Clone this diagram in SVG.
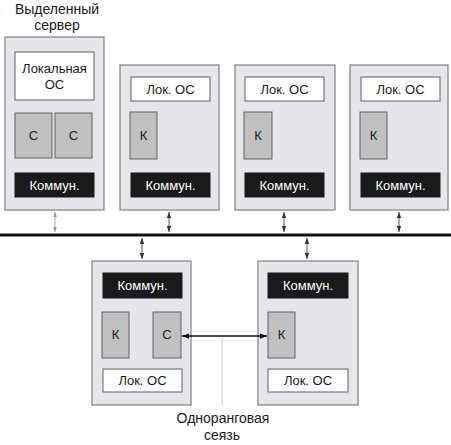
<svg xmlns="http://www.w3.org/2000/svg" width="451" height="445" viewBox="0 0 451 445">
<defs>
<style>
.box{fill:#e6e6ea;stroke:#808080;stroke-width:1.2}
.os{fill:#ffffff;stroke:#606060;stroke-width:1}
.kc{fill:#c0c0c0;stroke:#606060;stroke-width:1}
.com{fill:#1a1a1a;stroke:#1a1a1a}
text{font-family:"Liberation Sans",Arial,sans-serif;font-size:13px;text-anchor:middle}
.w{fill:#ffffff}
.b{fill:#1a1a1a}
.lbl{font-size:14px;fill:#1a1a1a}
.ar{stroke:#555;stroke-width:1;fill:none;marker-start:url(#ah);marker-end:url(#ah)}
.arl{stroke:#aaa;stroke-width:1;fill:none;marker-start:url(#ahl);marker-end:url(#ahl)}
</style>
<marker id="ah" viewBox="0 0 6 6" refX="6" refY="3" markerWidth="6" markerHeight="6" orient="auto-start-reverse" markerUnits="userSpaceOnUse"><path d="M0,0.8 L6,3 L0,5.2 z" fill="#333"/></marker>
<marker id="ahl" viewBox="0 0 6 6" refX="6" refY="3" markerWidth="5" markerHeight="5" orient="auto-start-reverse" markerUnits="userSpaceOnUse"><path d="M0,0.8 L6,3 L0,5.2 z" fill="#999"/></marker>
<marker id="ahb" viewBox="0 0 8 8" refX="8" refY="4" markerWidth="7" markerHeight="7" orient="auto-start-reverse" markerUnits="userSpaceOnUse"><path d="M0,1 L8,4 L0,7 z" fill="#111"/></marker>
</defs>
<rect width="451" height="445" fill="#ffffff"/>
<text class="lbl" x="57" y="14">Выделенный</text>
<text class="lbl" x="57" y="30">сервер</text>
<g id="server">
<rect class="box" x="5" y="37" width="99" height="173"/>
<rect class="os" x="15" y="52" width="79" height="48"/>
<text class="b" x="54.5" y="73">Локальная</text>
<text class="b" x="54.5" y="89">ОС</text>
<rect class="kc" x="15" y="113" width="37" height="45"/>
<text class="b" x="33.5" y="140">С</text>
<rect class="kc" x="55" y="113" width="37" height="45"/>
<text class="b" x="73.5" y="140">С</text>
<rect class="com" x="15" y="173" width="79" height="24"/>
<text class="w" x="54.5" y="190">Коммун.</text>
</g>
<g id="client1">
<rect class="box" x="120" y="65" width="99" height="145"/>
<rect class="os" x="131" y="77" width="79" height="24"/>
<text class="b" x="170.5" y="94">Лок. ОС</text>
<rect class="kc" x="130" y="112" width="27" height="47"/>
<text class="b" x="143.5" y="140">К</text>
<rect class="com" x="131" y="173" width="79" height="24"/>
<text class="w" x="170.5" y="190">Коммун.</text>
</g>
<g id="client2">
<rect class="box" x="235" y="65" width="100" height="145"/>
<rect class="os" x="245" y="77" width="79" height="24"/>
<text class="b" x="284.5" y="94">Лок. ОС</text>
<rect class="kc" x="244" y="112" width="28" height="47"/>
<text class="b" x="258" y="140">К</text>
<rect class="com" x="245" y="173" width="79" height="24"/>
<text class="w" x="284.5" y="190">Коммун.</text>
</g>
<g id="client3">
<rect class="box" x="350" y="65" width="98" height="145"/>
<rect class="os" x="361" y="77" width="79" height="24"/>
<text class="b" x="400.5" y="94">Лок. ОС</text>
<rect class="kc" x="360" y="112" width="27" height="47"/>
<text class="b" x="373.5" y="140">К</text>
<rect class="com" x="361" y="173" width="79" height="24"/>
<text class="w" x="400.5" y="190">Коммун.</text>
</g>
<g id="peer1">
<rect class="box" x="92" y="261" width="99" height="144"/>
<rect class="com" x="103" y="273" width="79" height="25"/>
<text class="w" x="142.5" y="290">Коммун.</text>
<rect class="kc" x="102" y="312" width="27" height="46"/>
<text class="b" x="115.5" y="339">К</text>
<rect class="kc" x="153" y="312" width="28" height="46"/>
<text class="b" x="167" y="339">С</text>
<rect class="os" x="103" y="369" width="79" height="23"/>
<text class="b" x="142.5" y="385">Лок. ОС</text>
</g>
<g id="peer2">
<rect class="box" x="258" y="261" width="100" height="144"/>
<rect class="com" x="268" y="273" width="80" height="25"/>
<text class="w" x="308" y="290">Коммун.</text>
<rect class="kc" x="268" y="312" width="27" height="46"/>
<text class="b" x="281.5" y="339">К</text>
<rect class="os" x="268" y="369" width="80" height="23"/>
<text class="b" x="308" y="385">Лок. ОС</text>
</g>
<g id="connectors">
<line x1="0" y1="235" x2="451" y2="235" stroke="#111" stroke-width="3"/>
<line class="arl" x1="55" y1="212" x2="55" y2="232"/>
<line class="ar" x1="169" y1="212" x2="169" y2="232"/>
<line class="ar" x1="284" y1="212" x2="284" y2="232"/>
<line class="ar" x1="399" y1="212" x2="399" y2="232"/>
<line class="ar" x1="142" y1="238" x2="142" y2="259"/>
<line class="ar" x1="307" y1="238" x2="307" y2="259"/>
<line x1="182" y1="336" x2="267" y2="336" stroke="#111" stroke-width="1.5" marker-start="url(#ahb)" marker-end="url(#ahb)"/>
<line x1="222" y1="338" x2="222" y2="405" stroke="#c8c8c8" stroke-width="1"/>
</g>
<text class="lbl" x="223" y="423">Одноранговая</text>
<text class="lbl" x="222" y="440">сеязь</text>
</svg>
